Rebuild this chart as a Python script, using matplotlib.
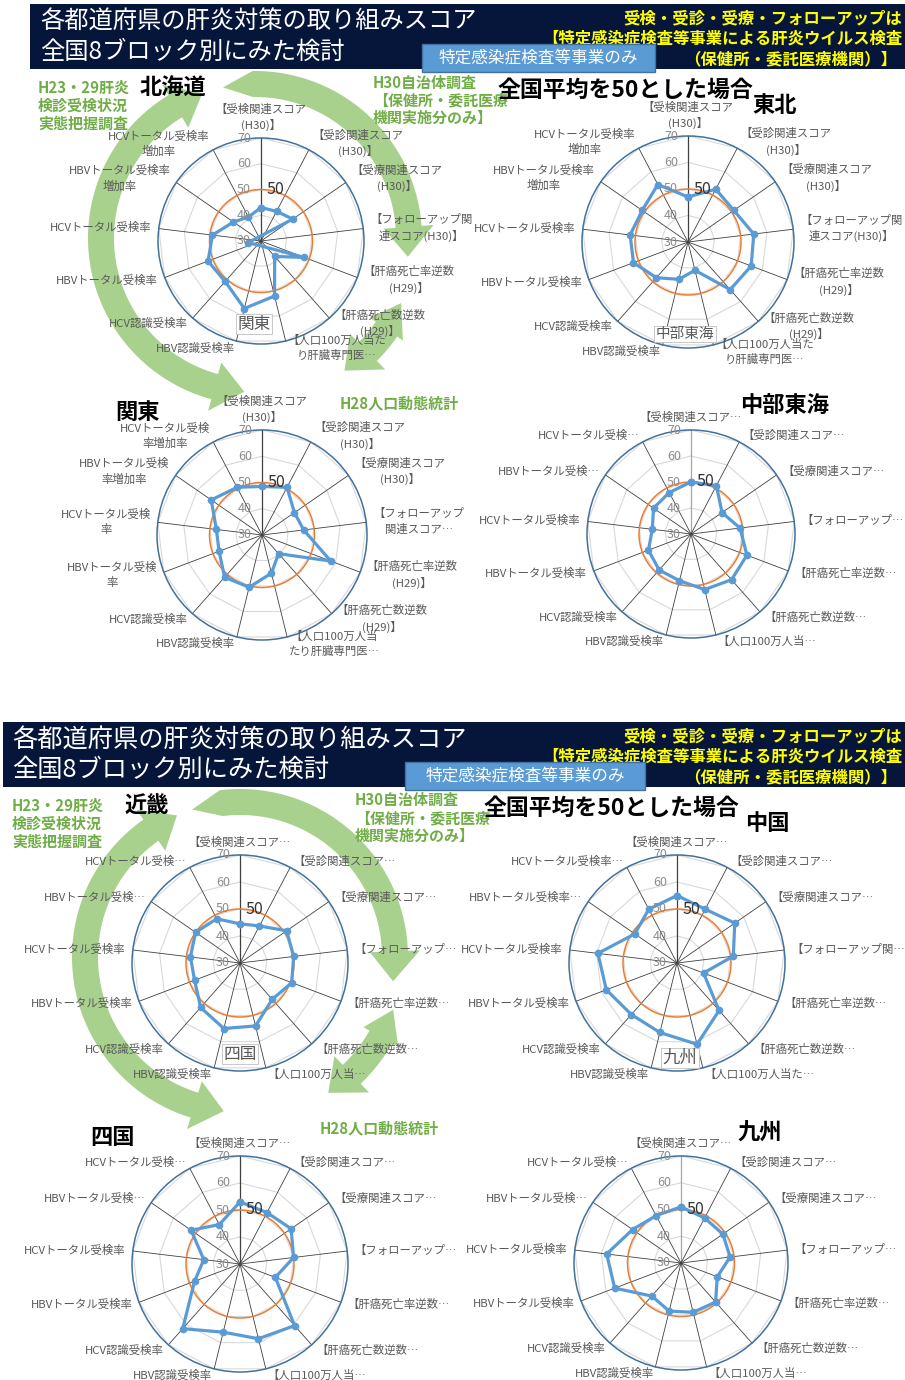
import numpy as np
import matplotlib
matplotlib.use("Agg")
import matplotlib.pyplot as plt
from matplotlib.patches import Polygon, Rectangle, Circle

plt.rcParams['font.family'] = ['Noto Sans CJK JP', 'DejaVu Sans']

# 軸ラベル（グラフごとに折り返し・省略が違う）
labels_twoline = ["【受検関連スコア\n(H30)】", "【受診関連スコア\n(H30)】", "【受療関連スコア\n(H30)】",
                  "【フォローアップ関\n連スコア(H30)】", "【肝癌死亡率逆数\n(H29)】", "【肝癌死亡数逆数\n(H29)】",
                  "【人口100万人当た\nり肝臓専門医…", "HBV認識受検率", "HCV認識受検率",
                  "HBVトータル受検率", "HCVトータル受検率", "HBVトータル受検率\n増加率", "HCVトータル受検率\n増加率"]
labels_kanto = ["【受検関連スコア\n(H30)】", "【受診関連スコア\n(H30)】", "【受療関連スコア\n(H30)】",
                "【フォローアップ\n関連スコア…", "【肝癌死亡率逆数\n(H29)】", "【肝癌死亡数逆数\n(H29)】",
                "【人口100万人当\nたり肝臓専門医…", "HBV認識受検率", "HCV認識受検率",
                "HBVトータル受検\n率", "HCVトータル受検\n率", "HBVトータル受検\n率増加率", "HCVトータル受検\n率増加率"]
labels_short = ["【受検関連スコア…", "【受診関連スコア…", "【受療関連スコア…", "【フォローアップ…",
                "【肝癌死亡率逆数…", "【肝癌死亡数逆数…", "【人口100万人当…", "HBV認識受検率", "HCV認識受検率",
                "HBVトータル受検率", "HCVトータル受検率", "HBVトータル受検…", "HCVトータル受検…"]
labels_chugoku = ["【受検関連スコア…", "【受診関連スコア…", "【受療関連スコア…", "【フォローアップ関…",
                  "【肝癌死亡率逆数…", "【肝癌死亡数逆数…", "【人口100万人当た…", "HBV認識受検率", "HCV認識受検率",
                  "HBVトータル受検率", "HCVトータル受検率", "HBVトータル受検率…", "HCVトータル受検率…"]

# スコア（全国平均=50）
hokkaido = [43, 43, 45, 25, 48, 38, 52, 57, 51, 52, 49, 43, 40.5]
tohoku = [47, 52.5, 51, 55, 55.5, 54, 41, 44.5, 48, 52, 52, 51, 54.5]
kanto = [48.5, 50.5, 45, 46, 58, 39.5, 45, 50.5, 51.5, 47.5, 47.5, 53.5, 50.5]
chubu = [50, 51, 44.5, 49, 53, 53.5, 52, 48.5, 48.5, 47.5, 45, 47.5, 48]
kinki = [44.5, 45.5, 51, 50, 50.5, 48, 54, 55, 52, 48, 48.5, 50, 48.5]
chugoku = [55, 52.5, 56, 51, 40.5, 53.5, 61, 56.5, 55.5, 58, 59.5, 49, 52.5]
shikoku = [53, 51.5, 53, 50, 44, 60.5, 58.5, 56, 62, 48, 43.5, 52, 46.5]
kyushu = [51, 49, 49, 48.5, 44.5, 49.5, 49, 48.5, 46.5, 56.5, 58, 52, 50]

ring_levels = [30, 40, 50, 60, 70]
vmin, vmax, avg = 30, 70, 50

title1 = "各都道府県の肝炎対策の取り組みスコア"
title2 = "全国8ブロック別にみた検討"
yellow_lines = ["受検・受診・受療・フォローアップは", "【特定感染症検査等事業による肝炎ウイルス検査", "（保健所・委託医療機関）】"]
green_left = ["H23・29肝炎", "検診受検状況", "実態把握調査"]
green_right = ["H30自治体調査", "【保健所・委託医療", "機関実施分のみ】"]

fig = plt.figure(figsize=(9.05, 13.8), dpi=100)
ax = fig.add_axes([0, 0, 1, 1])
ax.set_xlim(0, 905)
ax.set_ylim(1380, 0)
ax.axis('off')

GREEN = '#a9d18e'


def arc_arrow(cx, cy, r, a0, a1, w=26, head0=50, head1=50, hl=30):
    s = np.sign(a1 - a0)
    d = np.degrees(hl / r)
    b0, b1 = a0 + s * d, a1 - s * d
    t = np.radians(np.linspace(b0, b1, 100))

    def p(rad, a):
        return cx + rad * np.cos(a), cy - rad * np.sin(a)

    pts = [p(r, np.radians(a0)), p(r + head0 / 2, np.radians(b0))]
    xo, yo = p(r + w / 2, t)
    pts += list(zip(xo, yo))
    pts += [p(r + head1 / 2, np.radians(b1)), p(r, np.radians(a1)), p(r - head1 / 2, np.radians(b1))]
    xi, yi = p(r - w / 2, t[::-1])
    pts += list(zip(xi, yi))
    pts.append(p(r - head0 / 2, np.radians(b0)))
    ax.add_patch(Polygon(pts, closed=True, fc=GREEN, ec='none', zorder=1))


def radar(cx, cy, R, values, labels, top_spoke='#404040'):
    n = len(values)
    ang = np.pi / 2 - 2 * np.pi * np.arange(n) / n
    scale = R / (vmax - vmin)

    def xy(v, a):
        r = (np.asarray(v, dtype=float) - vmin) * scale
        return cx + r * np.cos(a), cy - r * np.sin(a)

    closed = np.append(ang, ang[0])
    for lv in ring_levels[1:]:
        x, y = xy(np.full(n + 1, lv), closed)
        ax.plot(x, y, color='#d9d9d9', lw=0.8, zorder=2)
    for k, a in enumerate(ang):
        x, y = xy([vmin, vmax], np.array([a, a]))
        ax.plot(x, y, color=top_spoke if k == 0 else '#404040', lw=0.6 if k else 0.9, zorder=2)
    ax.add_patch(Circle((cx, cy), (vmax - vmin) * scale, fill=False, ec='#41719c', lw=1.1, zorder=3))
    ax.add_patch(Circle((cx, cy), (avg - vmin) * scale, fill=False, ec='#ed7d31', lw=1.1, zorder=3))
    x, y = xy(np.append(values, values[0]), closed)
    ax.plot(x, y, color='#5b9bd5', lw=2.3, marker='o', ms=4.5, zorder=4)
    for lv in ring_levels:
        ax.text(cx - 10, cy - (lv - vmin) * scale, str(lv), ha='right', va='center',
                fontsize=9, color='#8c8c8c', zorder=5)
    ax.text(cx + 14, cy - (avg - vmin) * scale, str(avg), ha='center', va='center',
            fontsize=11.5, color='#333333', zorder=5)
    for k, (a, lab) in enumerate(zip(ang, labels)):
        lx, ly = xy(vmax, a)
        lx += 7 * np.cos(a)
        ly -= 7 * np.sin(a)
        c = np.cos(a)
        ha = 'left' if c > 0.15 else ('right' if c < -0.15 else 'center')
        va = 'bottom' if k == 0 else 'center'
        ax.text(lx, ly, lab, ha=ha, va=va, fontsize=8.2, color='#595959',
                linespacing=1.45, multialignment='center', zorder=5)


def header(x0, y0, y1, tx, box_x0, box_x1, box_y0, box_y1, tfs=17.5):
    ax.add_patch(Rectangle((x0, y0), 905 - x0, y1 - y0, fc='#06163a', ec='none', zorder=1))
    ax.text(tx, y0 + 18, title1, color='white', fontsize=tfs, va='center', zorder=5)
    ax.text(tx, y0 + 48, title2, color='white', fontsize=tfs, va='center', zorder=5)
    for i, line in enumerate(yellow_lines):
        ax.text(902 if i < 2 else 897, y0 + 14 + 20.5 * i, line, ha='right', va='center',
                color='#ffff00', fontsize=11.8, fontweight='bold', zorder=5)
    ax.add_patch(Rectangle((box_x0, box_y0), box_x1 - box_x0, box_y1 - box_y0,
                           fc='#5b9bd5', ec='#41719c', lw=1, zorder=6))
    ax.text((box_x0 + box_x1) / 2, (box_y0 + box_y1) / 2, "特定感染症検査等事業のみ",
            ha='center', va='center', color='white', fontsize=12, zorder=7)


def green_text(x, y, lines, step=18):
    for i, line in enumerate(lines):
        ax.text(x, y + step * i, line, color='#70ad47', fontsize=10.8, fontweight='bold',
                va='center', zorder=5)


def block_title(x, y, s, fs=16):
    ax.text(x, y, s, fontsize=fs, fontweight='bold', color='black', va='center', zorder=6)


def stray(x, y, s, fs):
    ax.text(x, y, s, fontsize=fs, color='#595959', ha='center', va='center', zorder=6,
            bbox=dict(fc='white', ec='#bfbfbf', lw=0.6, pad=1))


# ---- 1枚目 ----
header(30, 4, 69, 40, 422, 655, 44, 72)
arc_arrow(255, 238, 154, 266, 110)
arc_arrow(255, 238, 154, 102, -7, head0=26)
arc_arrow(255, 238, 160, -24, -56, head0=40)

radar(261, 241, 103, hokkaido, labels_twoline)
radar(688, 242, 106, tohoku, labels_twoline)
radar(262, 535, 105, kanto, labels_kanto)
radar(691, 534, 104, chubu, labels_short, top_spoke='#a6a6a6')

green_text(38, 88, green_left)
green_text(373, 83, green_right, step=17.5)
green_text(340, 403, ["H28人口動態統計"])
block_title(140, 88, "北海道")
block_title(752, 105, "東北")
block_title(115, 412, "関東")
block_title(740, 405, "中部東海")
block_title(498, 90, "全国平均を50とした場合", 16.5)
stray(254, 324, "関東", 12)
stray(685, 334, "中部東海", 10.5)

# ---- 2枚目 ----
header(3, 722, 787, 12, 405, 645, 762, 790, tfs=18.2)
arc_arrow(240, 957, 155, 264, 114)
arc_arrow(240, 957, 155, 108, -9, head0=26)
arc_arrow(240, 957, 162, -19, -57, head0=40)

radar(240, 963, 108, kinki, labels_short)
radar(677, 963, 108, chugoku, labels_chugoku)
radar(240, 1264, 108, shikoku, labels_short)
radar(681, 1263, 107, kyushu, labels_short, top_spoke='#a6a6a6')

green_text(12, 806, green_left)
green_text(355, 800, green_right, step=18)
green_text(320, 1128, ["H28人口動態統計"])
block_title(125, 806, "近畿")
block_title(745, 823, "中国")
block_title(90, 1138, "四国")
block_title(738, 1132, "九州")
block_title(484, 808, "全国平均を50とした場合", 16.5)
stray(240, 1054, "四国", 12)
stray(680, 1058, "九州", 12.5)

fig.savefig("out.png", dpi=100)
